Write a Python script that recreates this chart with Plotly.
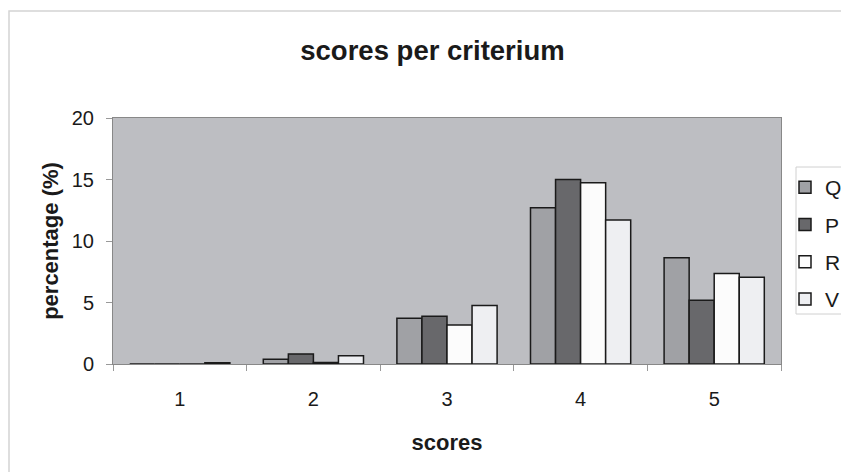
import plotly.graph_objects as go

categories = ["1", "2", "3", "4", "5"]
Q = [0.0, 0.38, 3.71, 12.7, 8.63]
P = [0.0, 0.82, 3.88, 15.0, 5.19]
R = [0.0, 0.13, 3.17, 14.73, 7.35]
V = [0.1, 0.68, 4.75, 11.7, 7.05]

series = [("Q", Q, "#a0a1a5"), ("P", P, "#68686b"), ("R", R, "#fcfcfc"), ("V", V, "#eeeff2")]

fig = go.Figure()
for name, vals, col in series:
    fig.add_trace(go.Bar(x=categories, y=vals, name=name, legendgroup=name,
                         marker=dict(color=col, line=dict(color="#1a1a1a", width=1.5))))

# plot area in screen pixels: x 113..781, y 118..364 (page has 8px body margin)
PL, PR, PT, PB = 113, 781, 118, 364
def px(x): return (x - PL) / (PR - PL)
def py(y): return (PB - y) / (PB - PT)

font = "Liberation Sans, Arial, sans-serif"
fig.update_layout(
    width=849, height=472,
    margin=dict(l=105, r=76, t=110, b=116, autoexpand=False),
    paper_bgcolor="white", plot_bgcolor="#bdbec2",
    barmode="group", bargap=0.25, bargroupgap=0,
    font=dict(family=font, size=20, color="#1a1a1a"),
    title=dict(text="<b>scores per criterium</b>", x=px(432.5), xref="paper", xanchor="center",
               y=1 - 42/472, yref="container", yanchor="middle", font=dict(size=27.5)),
    xaxis=dict(type="category", tickson="boundaries", ticks="outside", ticklen=6,
               tickcolor="#999", showline=True, linecolor="#888", mirror=True, automargin=False,
               ticklabelstandoff=17,
               title=dict(text="<b>scores</b>", font=dict(size=22), standoff=25),
               tickfont=dict(size=20)),
    yaxis=dict(range=[0, 20], dtick=5, ticks="outside", ticklen=6, tickcolor="#999",
               showgrid=False, zeroline=False, showline=True, linecolor="#888", mirror=True,
               automargin=False, ticklabelstandoff=8,
               title=dict(text="<b>percentage (%)</b>", font=dict(size=22), standoff=7),
               tickfont=dict(size=20)),
    legend=dict(x=px(847), xanchor="right", y=py(167), yanchor="top",
                borderwidth=0, bgcolor="rgba(0,0,0,0)",
                font=dict(size=21), tracegroupgap=7, itemwidth=30),
    shapes=[
        dict(type="rect", xref="paper", yref="paper",
             x0=px(9), x1=px(870), y0=py(490), y1=py(11),
             line=dict(color="#d4d4d4", width=1.5), layer="below"),
        dict(type="rect", xref="paper", yref="paper",
             x0=px(796), x1=px(870), y0=py(314), y1=py(167),
             line=dict(color="#d0d0d0", width=1), fillcolor="white", layer="below"),
    ],
    showlegend=True,
)

fig.write_html("out.html")
